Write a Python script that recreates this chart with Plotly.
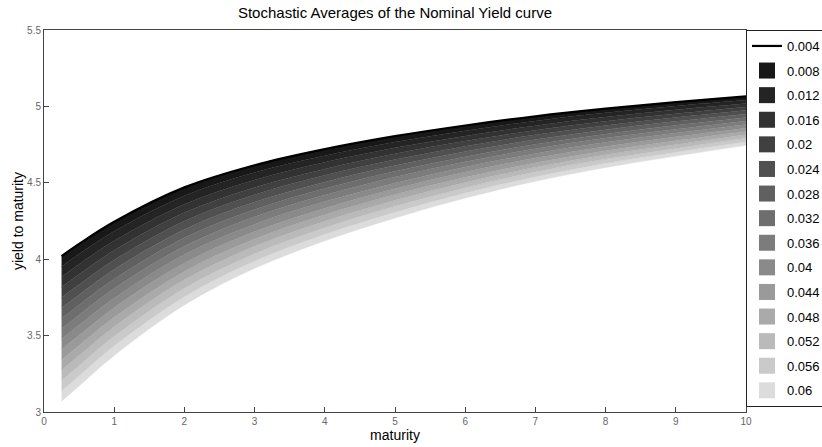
import plotly.graph_objects as go

maturity = [0.25, 0.5, 1, 2, 3, 4, 5, 6, 7, 8, 9, 10]

sigma_labels = ["0.004", "0.008", "0.012", "0.016", "0.02", "0.024", "0.028", "0.032",
                "0.036", "0.04", "0.044", "0.048", "0.052", "0.056", "0.06"]

y_004 = [4.020, 4.100, 4.245, 4.470, 4.615, 4.720, 4.805, 4.875, 4.935, 4.985, 5.028, 5.065]
y_008 = [3.952, 4.034, 4.183, 4.415, 4.567, 4.677, 4.767, 4.841, 4.905, 4.958, 5.003, 5.042]
y_012 = [3.884, 3.967, 4.120, 4.360, 4.519, 4.634, 4.729, 4.807, 4.874, 4.930, 4.978, 5.019]
y_016 = [3.816, 3.901, 4.058, 4.305, 4.470, 4.591, 4.690, 4.773, 4.844, 4.903, 4.952, 4.996]
y_020 = [3.749, 3.834, 3.995, 4.250, 4.422, 4.549, 4.652, 4.739, 4.814, 4.875, 4.927, 4.974]
y_024 = [3.681, 3.768, 3.933, 4.195, 4.374, 4.506, 4.614, 4.705, 4.783, 4.848, 4.902, 4.951]
y_028 = [3.613, 3.701, 3.870, 4.140, 4.326, 4.463, 4.576, 4.671, 4.753, 4.820, 4.877, 4.928]
y_032 = [3.545, 3.635, 3.808, 4.085, 4.278, 4.420, 4.538, 4.638, 4.723, 4.793, 4.851, 4.905]
y_036 = [3.477, 3.569, 3.745, 4.030, 4.229, 4.377, 4.499, 4.604, 4.692, 4.765, 4.826, 4.882]
y_040 = [3.409, 3.502, 3.683, 3.975, 4.181, 4.334, 4.461, 4.570, 4.662, 4.738, 4.801, 4.859]
y_044 = [3.341, 3.436, 3.620, 3.920, 4.133, 4.291, 4.423, 4.536, 4.631, 4.710, 4.776, 4.836]
y_048 = [3.274, 3.369, 3.558, 3.865, 4.085, 4.249, 4.385, 4.502, 4.601, 4.683, 4.750, 4.814]
y_052 = [3.206, 3.303, 3.495, 3.810, 4.036, 4.206, 4.347, 4.468, 4.571, 4.655, 4.725, 4.791]
y_056 = [3.138, 3.236, 3.433, 3.755, 3.988, 4.163, 4.308, 4.434, 4.540, 4.628, 4.700, 4.768]
y_060 = [3.070, 3.170, 3.370, 3.700, 3.940, 4.120, 4.270, 4.400, 4.510, 4.600, 4.675, 4.745]

series = [y_004, y_008, y_012, y_016, y_020, y_024, y_028, y_032,
          y_036, y_040, y_044, y_048, y_052, y_056, y_060]

gray_levels = [0, 24, 36, 50, 64, 80, 96, 110, 124, 138, 154, 170, 186, 202, 220]

x_ticks = list(range(0, 11))
y_ticks = [3, 3.5, 4, 4.5, 5, 5.5]

FONT = "Liberation Sans, Arial, sans-serif"

fig = go.Figure()
for i, (lab, ys) in enumerate(zip(sigma_labels, series)):
    g = gray_levels[i]
    col = f"rgb({g},{g},{g})"
    if i == 0:
        fig.add_trace(go.Scatter(x=maturity, y=ys, mode="lines", name=lab,
                                 line=dict(color="black", width=2.2, shape="spline"),
                                 legendgroup=lab))
    else:
        fig.add_trace(go.Scatter(x=maturity, y=ys, mode="lines", name=lab,
                                 line=dict(color=col, width=0.5, shape="spline"),
                                 fill="tonexty", fillcolor=col, legendgroup=lab,
                                 showlegend=False))

# legend swatches (square patches, as in the reference legend)
for i, lab in enumerate(sigma_labels):
    if i == 0:
        continue
    g = gray_levels[i]
    col = f"rgb({g},{g},{g})"
    fig.add_trace(go.Scatter(x=[None], y=[None], mode="markers", name=lab,
                             marker=dict(symbol="square", size=16, color=col),
                             legendgroup=lab, showlegend=True))

axis_common = dict(showline=True, linecolor="#444444", linewidth=1, mirror=True,
                   ticks="inside", ticklen=5, tickcolor="#444444", showgrid=False,
                   zeroline=False, tickfont=dict(family=FONT, size=10, color="#666666"))

fig.update_layout(
    width=822, height=447,
    margin=dict(l=44, r=76, t=30, b=35, autoexpand=False),
    paper_bgcolor="white", plot_bgcolor="white",
    title=dict(text="Stochastic Averages of the Nominal Yield curve", x=0.4805, xanchor="center",
               y=0.984, yanchor="top",
               font=dict(family=FONT, size=15, color="black")),
    xaxis=dict(range=[0, 10], tickvals=x_ticks, automargin=False,
               title=dict(text="maturity", standoff=2,
                          font=dict(family=FONT, size=14, color="black")),
               **axis_common),
    yaxis=dict(range=[3, 5.5], tickvals=y_ticks, automargin=False,
               ticktext=["3", "3.5", "4", "4.5", "5", "5.5"],
               title=dict(text="yield to maturity", standoff=0,
                          font=dict(family=FONT, size=14, color="black")),
               **axis_common),
    legend=dict(x=1.0, xanchor="left", y=1.0, yanchor="top",
                bordercolor="#222222", borderwidth=1, bgcolor="white",
                font=dict(family=FONT, size=13, color="black"),
                traceorder="grouped", tracegroupgap=4.7, itemwidth=30),
    showlegend=True,
)

fig.write_html("out.html", config={"displayModeBar": False},
               post_script="document.body.style.margin='0';document.body.style.overflow='hidden';")
